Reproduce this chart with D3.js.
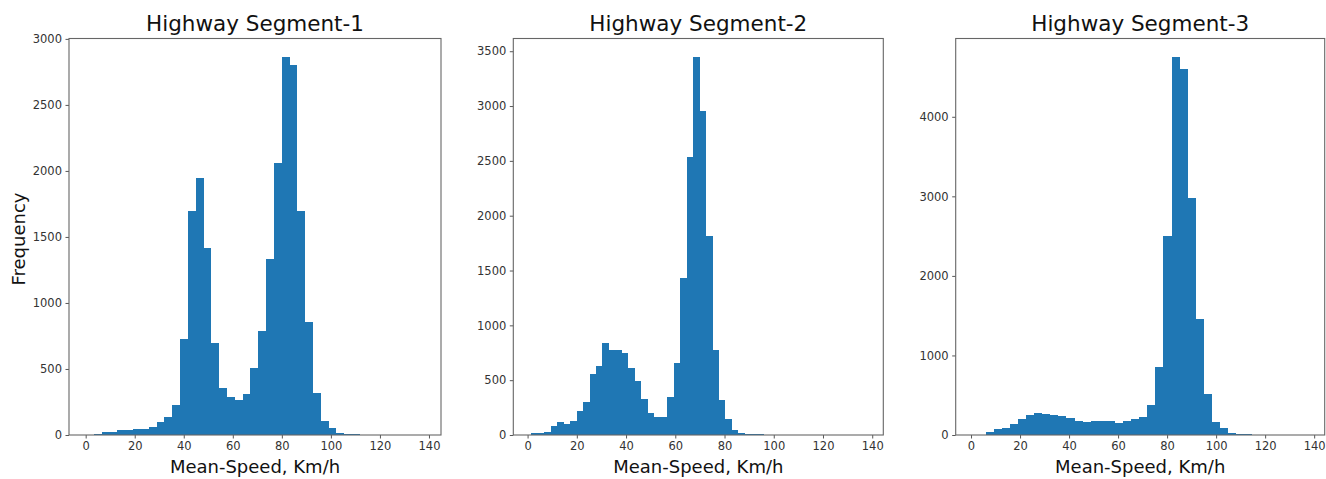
<!DOCTYPE html>
<html><head><meta charset="utf-8">
<script src="https://cdn.jsdelivr.net/npm/d3@7"></script>
<style>
html,body{margin:0;padding:0;background:#fff;}
svg{display:block;font-family:"DejaVu Sans",sans-serif;}
</style></head>
<body><svg id="c" width="1326" height="479"></svg>
<script>
// ---- data ----
const titles = ["Highway Segment-1", "Highway Segment-2", "Highway Segment-3"];
const xTicks = [0, 20, 40, 60, 80, 100, 120, 140];
const yTicks1 = [0, 500, 1000, 1500, 2000, 2500, 3000];
const yTicks2 = [0, 500, 1000, 1500, 2000, 2500, 3000, 3500];
const yTicks3 = [0, 1000, 2000, 3000, 4000];
// histogram bins: first edge and bin width (km/h)
const binStart1 = 0.2,  binWidth1 = 3.19;
const binStart2 = 1.49, binWidth2 = 2.63;
const binStart3 = 5.98, binWidth3 = 3.297;
const counts1 = [3, 10, 20, 22, 35, 35, 48, 48, 58, 100, 136, 227, 730, 1700, 1950, 1418, 695, 356, 290, 265, 311, 505, 791, 1334, 2062, 2863, 2800, 1700, 854, 321, 103, 55, 18, 8, 5, 3, 2, 1, 0, 0, 0, 0, 0];
const counts2 = [15, 20, 30, 82, 120, 100, 130, 219, 304, 553, 629, 836, 775, 775, 745, 614, 495, 325, 204, 164, 161, 350, 653, 1428, 2534, 3443, 2954, 1814, 775, 319, 146, 46, 20, 12, 8, 5, 4, 3, 2, 1, 0, 0, 0, 0, 0, 0, 0, 0, 0, 0, 0, 0];
const counts3 = [38, 80, 88, 142, 205, 251, 272, 262, 255, 243, 214, 172, 163, 180, 176, 172, 150, 175, 205, 232, 377, 859, 2505, 4746, 4599, 2974, 1453, 515, 168, 84, 30, 12, 8, 5, 4, 3, 0, 0, 0, 0];
const yMax = [3003, 3616, 4984];
const xDomains = [[-6.8, 144.9], [-5.8, 144.5], [-6.25, 144.3]];

// ---- layout ----
const panels = [
  {left: 69,    width: 372, counts: counts1, start: binStart1, w: binWidth1, yTicks: yTicks1},
  {left: 513.3, width: 370, counts: counts2, start: binStart2, w: binWidth2, yTicks: yTicks2},
  {left: 955.7, width: 369, counts: counts3, start: binStart3, w: binWidth3, yTicks: yTicks3}
];
const plotTop = 38.5, plotBottom = 435;
const svg = d3.select("#c");
const barColor = "#1f77b4";

panels.forEach((p, i) => {
  const x = d3.scaleLinear().domain(xDomains[i]).range([p.left, p.left + p.width]);
  const y = d3.scaleLinear().domain([0, yMax[i]]).range([plotBottom, plotTop]);
  const g = svg.append("g");

  const bins = p.counts.map((c, k) => ({x0: p.start + k * p.w, x1: p.start + (k + 1) * p.w, c}));
  g.append("g").attr("shape-rendering", "crispEdges")
    .selectAll("rect").data(bins.filter(b => b.c > 0)).join("rect")
    .attr("x", d => x(d.x0))
    .attr("width", d => x(d.x1) - x(d.x0))
    .attr("y", d => y(d.c))
    .attr("height", d => y(0) - y(d.c))
    .attr("fill", barColor);

  // axes
  const xa = g.append("g").attr("transform", `translate(0,${plotBottom})`)
    .call(d3.axisBottom(x).tickValues(xTicks).tickSize(3.5).tickPadding(3.5).tickFormat(d3.format("d")));
  const ya = g.append("g").attr("transform", `translate(${p.left},0)`)
    .call(d3.axisLeft(y).tickValues(p.yTicks).tickSize(3.5).tickPadding(3.5).tickFormat(d3.format("d")));
  [xa, ya].forEach(a => {
    a.select(".domain").remove();
    a.selectAll(".tick line").attr("stroke", "#444").attr("stroke-width", 0.9);
    a.selectAll(".tick text").attr("fill", "#333").style("font-size", "11.5px")
      .style("font-family", "'DejaVu Sans', sans-serif");
  });

  // frame
  g.append("rect").attr("x", p.left).attr("y", plotTop).attr("width", p.width).attr("height", plotBottom - plotTop)
    .attr("fill", "none").attr("stroke", "#666").attr("stroke-width", 1.1);

  // title
  g.append("text").attr("x", p.left + p.width / 2).attr("y", 30.5).attr("text-anchor", "middle")
    .style("font-size", "21.5px").attr("fill", "#111").text(titles[i]);
  // x label
  g.append("text").attr("x", p.left + p.width / 2).attr("y", 473).attr("text-anchor", "middle")
    .style("font-size", "18px").attr("fill", "#111").text("Mean-Speed, Km/h");
});

svg.append("text").attr("transform", "translate(25,239) rotate(-90)").attr("text-anchor", "middle")
  .style("font-size", "18px").attr("fill", "#111").text("Frequency");
</script></body></html>
